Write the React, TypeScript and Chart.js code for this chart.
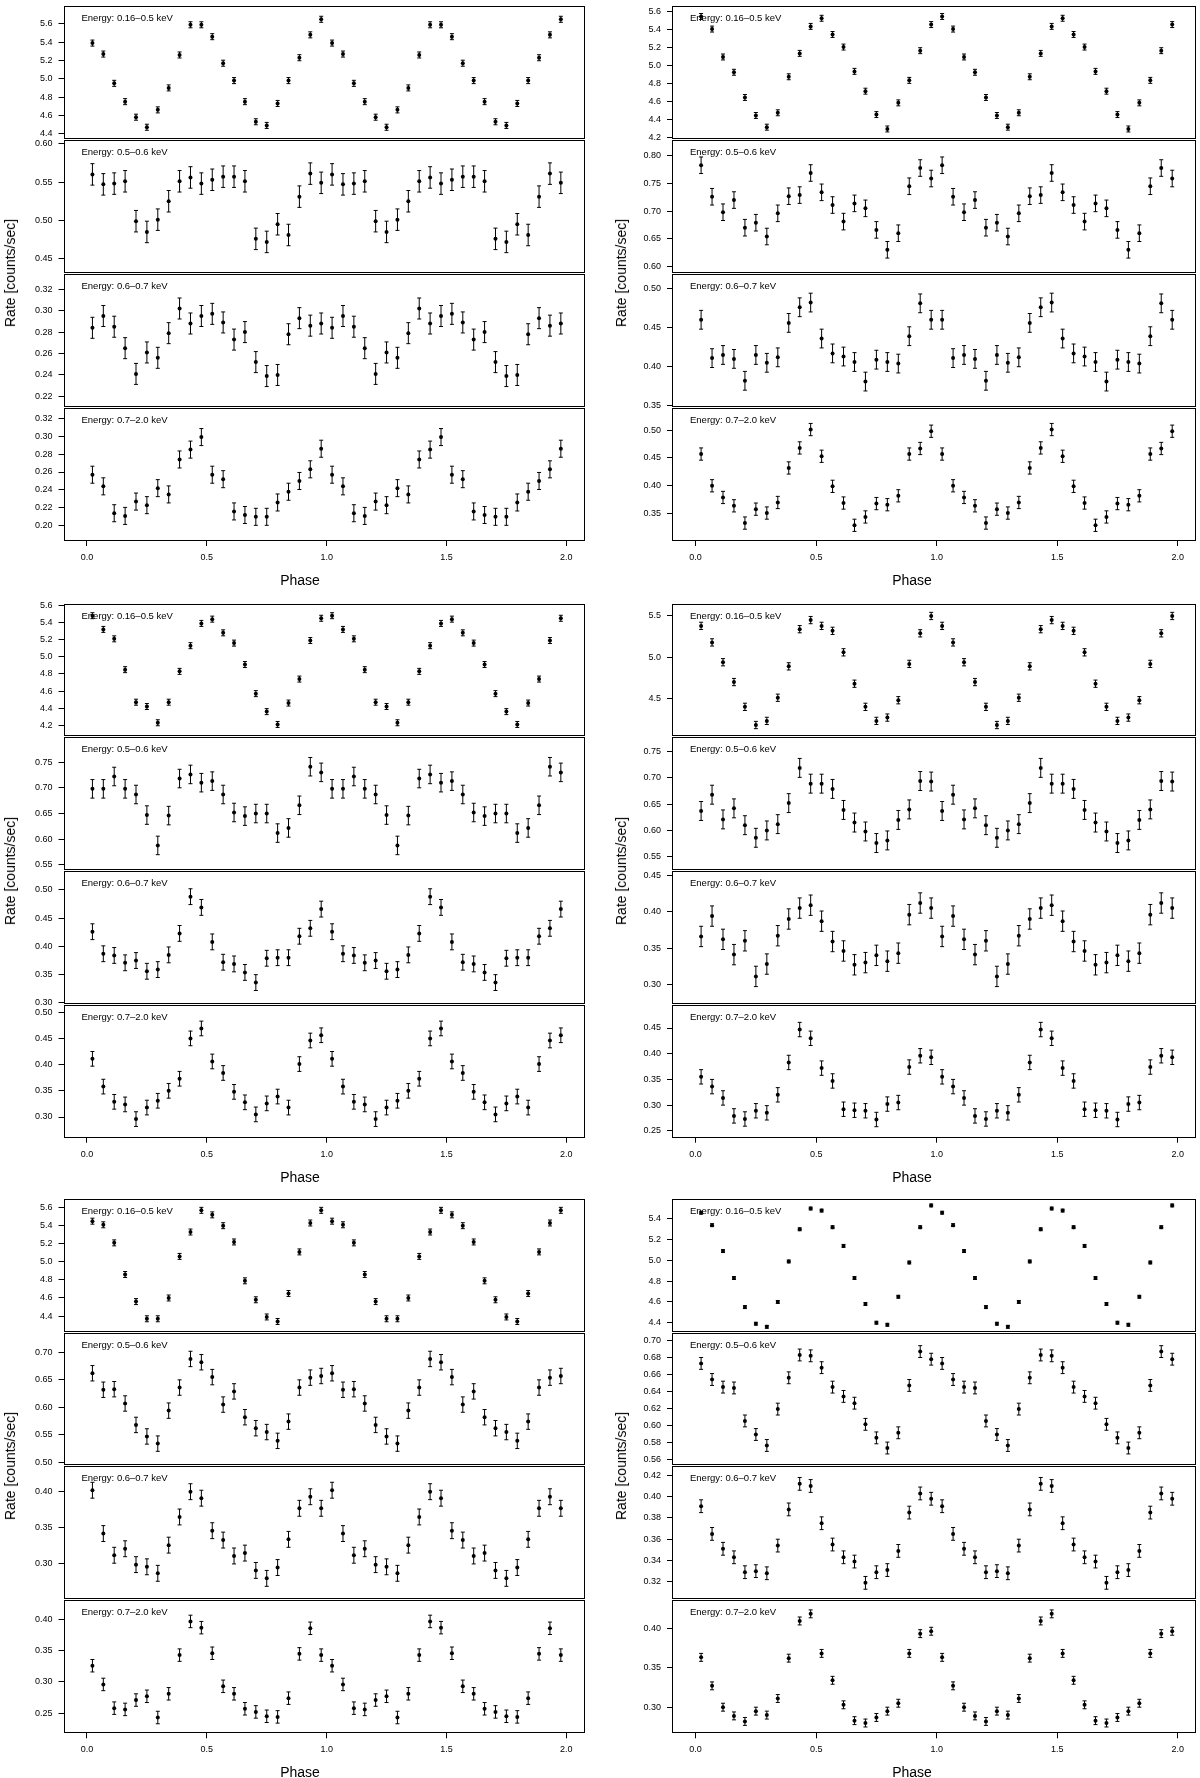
import React, { useEffect, useRef } from 'react';
import { Chart, registerables } from 'chart.js';

Chart.register(...registerables);

const FONT = '"Liberation Sans", Arial, Helvetica, sans-serif';

// ---- shared axis data ----
const BINS_PER_CYCLE = 22;
const CYCLES = 2;
const PHASE_TICKS = [0, 0.5, 1, 1.5, 2];
const PHASE_MIN = -0.098;
const PHASE_MAX = 2.076;
const BAND_LABELS = [
  'Energy: 0.16–0.5 keV',
  'Energy: 0.5–0.6 keV',
  'Energy: 0.6–0.7 keV',
  'Energy: 0.7–2.0 keV',
];
const BAND_DECIMALS = [1, 2, 2, 2];

// ---- panel 1 (top left) ----
const P1_B1 = [5.39, 5.27, 4.95, 4.75, 4.58, 4.47, 4.66, 4.90, 5.26, 5.59, 5.59, 5.46, 5.17, 4.98, 4.75, 4.53, 4.49, 4.73, 4.98, 5.23, 5.48, 5.65];
const P1_B2 = [0.560, 0.547, 0.548, 0.551, 0.499, 0.485, 0.501, 0.525, 0.551, 0.556, 0.548, 0.553, 0.557, 0.557, 0.551, 0.476, 0.472, 0.495, 0.481, 0.531, 0.561, 0.549];
const P1_B3 = [0.284, 0.295, 0.285, 0.265, 0.241, 0.261, 0.256, 0.279, 0.302, 0.288, 0.295, 0.297, 0.289, 0.273, 0.280, 0.252, 0.239, 0.240, 0.278, 0.293, 0.286, 0.288];
const P1_B4 = [0.257, 0.244, 0.214, 0.211, 0.227, 0.223, 0.242, 0.235, 0.274, 0.285, 0.299, 0.257, 0.252, 0.216, 0.212, 0.210, 0.210, 0.226, 0.238, 0.250, 0.263, 0.286];
const P1_ERR = [0.033, 0.014, 0.0098, 0.0095];
const P1_LIMS = [[4.346, 5.791], [0.432, 0.6043], [0.2105, 0.3338], [0.183, 0.331]];
const P1_TICKS = [
  [4.4, 4.6, 4.8, 5.0, 5.2, 5.4, 5.6],
  [0.45, 0.5, 0.55, 0.6],
  [0.22, 0.24, 0.26, 0.28, 0.3, 0.32],
  [0.2, 0.22, 0.24, 0.26, 0.28, 0.3, 0.32],
];

// ---- panel 2 (top right) ----
const P2_B1 = [5.55, 5.41, 5.10, 4.93, 4.65, 4.45, 4.32, 4.48, 4.88, 5.14, 5.44, 5.53, 5.35, 5.21, 4.94, 4.72, 4.46, 4.30, 4.59, 4.84, 5.17, 5.46];
const P2_B2 = [0.783, 0.726, 0.698, 0.720, 0.670, 0.679, 0.654, 0.696, 0.727, 0.729, 0.769, 0.734, 0.711, 0.681, 0.714, 0.705, 0.666, 0.630, 0.660, 0.745, 0.778, 0.759];
const P2_B3 = [0.460, 0.411, 0.415, 0.410, 0.382, 0.415, 0.405, 0.412, 0.456, 0.476, 0.482, 0.436, 0.417, 0.413, 0.406, 0.381, 0.409, 0.406, 0.404, 0.439, 0.481, 0.460];
const P2_B4 = [0.457, 0.400, 0.379, 0.364, 0.333, 0.358, 0.351, 0.370, 0.432, 0.468, 0.501, 0.453, 0.399, 0.369, 0.329, 0.344, 0.368, 0.366, 0.382, 0.457, 0.467, 0.498];
const P2_ERR = [0.033, 0.015, 0.012, 0.011];
const P2_LIMS = [[4.193, 5.662], [0.5887, 0.828], [0.349, 0.518], [0.3008, 0.539]];
const P2_TICKS = [
  [4.2, 4.4, 4.6, 4.8, 5.0, 5.2, 5.4, 5.6],
  [0.6, 0.65, 0.7, 0.75, 0.8],
  [0.35, 0.4, 0.45, 0.5],
  [0.35, 0.4, 0.45, 0.5],
];

// ---- panel 3 (middle left) ----
const P3_B1 = [5.48, 5.32, 5.21, 4.85, 4.47, 4.42, 4.23, 4.47, 4.83, 5.13, 5.39, 5.44, 5.28, 5.16, 4.91, 4.57, 4.36, 4.21, 4.46, 4.74, 5.19, 5.45];
const P3_B2 = [0.698, 0.698, 0.722, 0.698, 0.687, 0.647, 0.588, 0.646, 0.718, 0.726, 0.710, 0.713, 0.687, 0.652, 0.645, 0.650, 0.650, 0.612, 0.622, 0.666, 0.741, 0.730];
const P3_B3 = [0.426, 0.387, 0.384, 0.371, 0.375, 0.356, 0.359, 0.385, 0.423, 0.488, 0.469, 0.408, 0.372, 0.369, 0.354, 0.336, 0.379, 0.380, 0.380, 0.418, 0.432, 0.466];
const P3_B4 = [0.411, 0.358, 0.329, 0.324, 0.296, 0.318, 0.331, 0.350, 0.373, 0.450, 0.469, 0.406, 0.384, 0.348, 0.328, 0.305, 0.326, 0.339, 0.318, 0.401, 0.446, 0.456];
const P3_ERR = [0.035, 0.018, 0.014, 0.014];
const P3_LIMS = [[4.08, 5.612], [0.541, 0.798], [0.2988, 0.5327], [0.2605, 0.513]];
const P3_TICKS = [
  [4.2, 4.4, 4.6, 4.8, 5.0, 5.2, 5.4, 5.6],
  [0.55, 0.6, 0.65, 0.7, 0.75],
  [0.3, 0.35, 0.4, 0.45, 0.5],
  [0.3, 0.35, 0.4, 0.45, 0.5],
];

// ---- panel 4 (middle right) ----
const P4_B1 = [5.38, 5.18, 4.94, 4.70, 4.40, 4.18, 4.23, 4.51, 4.89, 5.34, 5.45, 5.38, 5.32, 5.06, 4.68, 4.40, 4.23, 4.27, 4.48, 4.92, 5.29, 5.50];
const P4_B2 = [0.637, 0.668, 0.621, 0.642, 0.610, 0.586, 0.600, 0.612, 0.652, 0.719, 0.689, 0.689, 0.679, 0.639, 0.615, 0.598, 0.576, 0.581, 0.620, 0.640, 0.694, 0.693];
const P4_B3 = [0.366, 0.394, 0.362, 0.341, 0.360, 0.311, 0.328, 0.367, 0.390, 0.405, 0.409, 0.387, 0.359, 0.346, 0.327, 0.330, 0.340, 0.332, 0.343, 0.396, 0.412, 0.405];
const P4_B4 = [0.355, 0.336, 0.314, 0.279, 0.273, 0.289, 0.285, 0.320, 0.383, 0.447, 0.430, 0.372, 0.347, 0.292, 0.290, 0.289, 0.272, 0.302, 0.305, 0.374, 0.396, 0.393];
const P4_ERR = [0.044, 0.018, 0.014, 0.014];
const P4_LIMS = [[4.052, 5.64], [0.5255, 0.777], [0.2736, 0.4555], [0.2366, 0.494]];
const P4_TICKS = [
  [4.5, 5.0, 5.5],
  [0.55, 0.6, 0.65, 0.7, 0.75],
  [0.3, 0.35, 0.4, 0.45],
  [0.25, 0.3, 0.35, 0.4, 0.45],
];

// ---- panel 5 (bottom left) ----
const P5_B1 = [5.45, 5.41, 5.21, 4.86, 4.56, 4.37, 4.37, 4.60, 5.06, 5.33, 5.57, 5.52, 5.40, 5.22, 4.79, 4.58, 4.39, 4.34, 4.65, 5.11, 5.43, 5.57];
const P5_B2 = [0.662, 0.632, 0.633, 0.607, 0.568, 0.547, 0.534, 0.594, 0.636, 0.688, 0.682, 0.655, 0.605, 0.629, 0.582, 0.562, 0.555, 0.539, 0.574, 0.636, 0.654, 0.657];
const P5_B3 = [0.402, 0.342, 0.312, 0.321, 0.299, 0.296, 0.287, 0.326, 0.365, 0.400, 0.391, 0.346, 0.333, 0.311, 0.315, 0.291, 0.280, 0.295, 0.334, 0.377, 0.393, 0.377];
const P5_B4 = [0.326, 0.296, 0.258, 0.256, 0.271, 0.277, 0.243, 0.281, 0.343, 0.397, 0.387, 0.346, 0.293, 0.281, 0.257, 0.252, 0.245, 0.244, 0.274, 0.345, 0.386, 0.343];
const P5_ERR = [0.033, 0.014, 0.011, 0.01];
const P5_LIMS = [[4.228, 5.691], [0.4958, 0.7345], [0.252, 0.435], [0.2177, 0.4307]];
const P5_TICKS = [
  [4.4, 4.6, 4.8, 5.0, 5.2, 5.4, 5.6],
  [0.5, 0.55, 0.6, 0.65, 0.7],
  [0.3, 0.35, 0.4],
  [0.25, 0.3, 0.35, 0.4],
];

// ---- panel 6 (bottom right) ----
const P6_B1 = [5.46, 5.34, 5.09, 4.83, 4.55, 4.39, 4.36, 4.60, 4.99, 5.30, 5.50, 5.48, 5.32, 5.14, 4.83, 4.58, 4.40, 4.38, 4.65, 4.98, 5.32, 5.53];
const P6_B2 = [0.673, 0.654, 0.645, 0.644, 0.605, 0.589, 0.576, 0.619, 0.656, 0.683, 0.682, 0.668, 0.645, 0.634, 0.626, 0.601, 0.585, 0.573, 0.591, 0.647, 0.687, 0.678];
const P6_B3 = [0.391, 0.365, 0.351, 0.343, 0.329, 0.330, 0.328, 0.354, 0.388, 0.412, 0.410, 0.375, 0.355, 0.343, 0.339, 0.319, 0.329, 0.331, 0.349, 0.385, 0.403, 0.398];
const P6_B4 = [0.363, 0.327, 0.300, 0.289, 0.282, 0.295, 0.290, 0.311, 0.362, 0.409, 0.418, 0.368, 0.334, 0.303, 0.283, 0.280, 0.287, 0.295, 0.305, 0.368, 0.393, 0.396];
const P6_ERR = [0.014, 0.007, 0.006, 0.005];
const P6_LIMS = [[4.314, 5.588], [0.5534, 0.7085], [0.3042, 0.4284], [0.267, 0.435]];
const P6_TICKS = [
  [4.4, 4.6, 4.8, 5.0, 5.2, 5.4],
  [0.56, 0.58, 0.6, 0.62, 0.64, 0.66, 0.68, 0.7],
  [0.32, 0.34, 0.36, 0.38, 0.4, 0.42],
  [0.3, 0.35, 0.4],
];

// ---- layout ----
const COLS = [
  { canvasLeft: 0, boxLeft: 63.5, boxRight: 584.5, yLabelX: 10, phaseX: 300 },
  { canvasLeft: 600, boxLeft: 672, boxRight: 1196, yLabelX: 621, phaseX: 912 },
];
const ROWS = [
  { top: 5.5, bottom: 541 },
  { top: 603.3, bottom: 1137.7 },
  { top: 1198.3, bottom: 1733.3 },
];

const PANELS = [
  { col: 0, row: 0, bands: [P1_B1, P1_B2, P1_B3, P1_B4], err: P1_ERR, lims: P1_LIMS, ticks: P1_TICKS },
  { col: 1, row: 0, bands: [P2_B1, P2_B2, P2_B3, P2_B4], err: P2_ERR, lims: P2_LIMS, ticks: P2_TICKS },
  { col: 0, row: 1, bands: [P3_B1, P3_B2, P3_B3, P3_B4], err: P3_ERR, lims: P3_LIMS, ticks: P3_TICKS },
  { col: 1, row: 1, bands: [P4_B1, P4_B2, P4_B3, P4_B4], err: P4_ERR, lims: P4_LIMS, ticks: P4_TICKS },
  { col: 0, row: 2, bands: [P5_B1, P5_B2, P5_B3, P5_B4], err: P5_ERR, lims: P5_LIMS, ticks: P5_TICKS },
  { col: 1, row: 2, bands: [P6_B1, P6_B2, P6_B3, P6_B4], err: P6_ERR, lims: P6_LIMS, ticks: P6_TICKS },
];

const X_AXIS_H = 30;

type BandProps = {
  values: number[];
  err: number;
  lim: number[];
  ticks: number[];
  decimals: number;
  label: string;
  col: typeof COLS[number];
  bandTop: number;
  bandBottom: number;
  isBottom: boolean;
};

function Band(props: BandProps) {
  const { values, err, lim, ticks, decimals, label, col, bandTop, bandBottom, isBottom } = props;
  const ref = useRef<HTMLCanvasElement>(null);

  const cLeft = col.canvasLeft;
  const cWidth = Math.ceil(col.boxRight) + 4 - cLeft;
  const padRight = cLeft + cWidth - col.boxRight;
  const cTop = Math.floor(bandTop) - 10;
  const padTop = bandTop - cTop;
  const cHeight = isBottom
    ? Math.ceil(bandBottom + X_AXIS_H) - cTop
    : Math.ceil(bandBottom) + 10 - cTop;
  const padBottom = isBottom ? 0 : cTop + cHeight - bandBottom;
  const xAxisH = isBottom ? cTop + cHeight - bandBottom : 0;
  const yAxisW = col.boxLeft - cLeft;

  useEffect(() => {
    const points: { x: number; y: number }[] = [];
    for (let c = 0; c < CYCLES; c++) {
      values.forEach((v, i) => {
        points.push({ x: c + (i + 0.5) / BINS_PER_CYCLE, y: v });
      });
    }

    const errorBars = {
      id: 'errorBars',
      beforeDatasetsDraw(chart: any) {
        const { ctx, scales } = chart;
        const xs = scales.x;
        const ys = scales.y;
        ctx.save();
        ctx.strokeStyle = '#000';
        ctx.lineWidth = 1;
        ctx.beginPath();
        points.forEach((p) => {
          const px = xs.getPixelForValue(p.x);
          const y1 = ys.getPixelForValue(p.y - err);
          const y2 = ys.getPixelForValue(p.y + err);
          ctx.moveTo(px, y1);
          ctx.lineTo(px, y2);
          ctx.moveTo(px - 2, y1);
          ctx.lineTo(px + 2, y1);
          ctx.moveTo(px - 2, y2);
          ctx.lineTo(px + 2, y2);
        });
        ctx.stroke();
        ctx.restore();
      },
    };

    const frame = {
      id: 'frame',
      afterDraw(chart: any) {
        const { ctx, chartArea } = chart;
        ctx.save();
        ctx.strokeStyle = '#000';
        ctx.lineWidth = 1;
        const l = Math.round(chartArea.left) + 0.5;
        const r = Math.round(chartArea.right) - 0.5;
        const t = Math.round(chartArea.top) + 0.5;
        const b = Math.round(chartArea.bottom) - 0.5;
        ctx.strokeRect(l, t, r - l, b - t);
        ctx.fillStyle = '#000';
        ctx.font = `9.5px ${FONT}`;
        ctx.textAlign = 'left';
        ctx.textBaseline = 'middle';
        ctx.fillText(label, chartArea.left + 18, chartArea.top + 12);
        ctx.restore();
      },
    };

    const chart = new Chart(ref.current as HTMLCanvasElement, {
      type: 'scatter',
      data: {
        datasets: [
          {
            data: points,
            pointRadius: 2,
            pointHoverRadius: 2,
            pointBackgroundColor: '#000',
            pointBorderWidth: 0,
            showLine: false,
          },
        ],
      },
      options: {
        animation: false,
        responsive: false,
        events: [],
        layout: { padding: { top: padTop, bottom: padBottom, right: padRight, left: 0 } },
        plugins: { legend: { display: false }, tooltip: { enabled: false } },
        scales: {
          x: {
            type: 'linear',
            min: PHASE_MIN,
            max: PHASE_MAX,
            display: isBottom,
            afterBuildTicks: (s: any) => {
              s.ticks = PHASE_TICKS.map((v) => ({ value: v }));
            },
            afterFit: (s: any) => {
              s.height = xAxisH;
            },
            grid: { drawOnChartArea: false, drawTicks: true, tickLength: 5, color: '#000', lineWidth: 1 },
            border: { display: false },
            ticks: {
              font: { family: FONT, size: 9 },
              color: '#000',
              padding: 6,
              maxRotation: 0,
              autoSkip: false,
              callback: (v: any) => Number(v).toFixed(1),
            },
          },
          y: {
            type: 'linear',
            min: lim[0],
            max: lim[1],
            afterBuildTicks: (s: any) => {
              s.ticks = ticks.map((v) => ({ value: v }));
            },
            afterFit: (s: any) => {
              s.width = yAxisW;
            },
            grid: { drawOnChartArea: false, drawTicks: true, tickLength: 5, color: '#000', lineWidth: 1 },
            border: { display: false },
            ticks: {
              font: { family: FONT, size: 9 },
              color: '#000',
              padding: 6,
              autoSkip: false,
              callback: (v: any) => Number(v).toFixed(decimals),
            },
          },
        },
      },
      plugins: [errorBars, frame],
    } as any);
    return () => chart.destroy();
  }, []);

  return (
    <canvas
      ref={ref}
      width={cWidth}
      height={cHeight}
      style={{ position: 'absolute', left: cLeft, top: cTop, width: cWidth, height: cHeight }}
    />
  );
}

const textStyle: React.CSSProperties = {
  position: 'absolute',
  whiteSpace: 'nowrap',
  fontFamily: FONT,
  fontSize: 14,
  color: '#000',
  lineHeight: 1,
};

export default function App() {
  const items: React.ReactNode[] = [];
  PANELS.forEach((p, pi) => {
    const col = COLS[p.col];
    const row = ROWS[p.row];
    const h = (row.bottom - row.top) / 4;
    p.bands.forEach((vals, k) => {
      const top = row.top + k * h;
      items.push(
        <Band
          key={`p${pi}b${k}`}
          values={vals}
          err={p.err[k]}
          lim={p.lims[k]}
          ticks={p.ticks[k]}
          decimals={BAND_DECIMALS[k]}
          label={BAND_LABELS[k]}
          col={col}
          bandTop={top}
          bandBottom={top + h}
          isBottom={k === 3}
        />
      );
    });
    items.push(
      <div
        key={`ylab${pi}`}
        style={{
          ...textStyle,
          left: col.yLabelX,
          top: (row.top + row.bottom) / 2,
          transform: 'translate(-50%, -50%) rotate(-90deg)',
        }}
      >
        Rate [counts/sec]
      </div>
    );
    items.push(
      <div
        key={`xlab${pi}`}
        style={{
          ...textStyle,
          left: col.phaseX,
          top: row.bottom + 39,
          transform: 'translate(-50%, -50%)',
        }}
      >
        Phase
      </div>
    );
  });

  return (
    <div
      style={{
        position: 'absolute',
        left: 0,
        top: 0,
        width: 1200,
        height: 1778,
        background: '#fff',
        overflow: 'hidden',
      }}
    >
      {items}
    </div>
  );
}
